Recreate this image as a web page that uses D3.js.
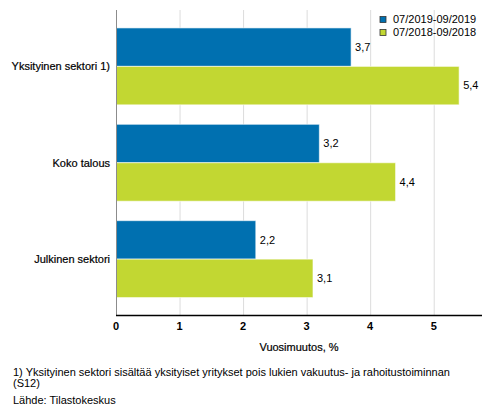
<!doctype html>
<html lang="fi">
<head>
<meta charset="utf-8">
<title>Vuosimuutos</title>
<script src="https://cdn.jsdelivr.net/npm/d3@7"></script>
<style>
  body { margin: 0; background: #fff; }
  svg { font-family: "Liberation Sans", Arial, sans-serif; display: block; }
</style>
</head>
<body>
<div id="chart"></div>
<script>
// data
const categories = ['Yksityinen sektori 1)', 'Koko talous', 'Julkinen sektori'];
const seriesNames = ['07/2019-09/2019', '07/2018-09/2018'];
const values2019 = [3.7, 3.2, 2.2];
const values2018 = [5.4, 4.4, 3.1];
const xTicks = [0, 1, 2, 3, 4, 5];
const colors = ['#0070b0', '#c2d732'];

const width = 493, height = 416;
const plot = { left: 116, right: 482, top: 10, bottom: 315.5 };

const svg = d3.select('#chart').append('svg')
    .attr('width', width)
    .attr('height', height);

const x = d3.scaleLinear()
    .domain([0, 5.76])
    .range([plot.left, plot.right]);

const y0 = d3.scaleBand()
    .domain(categories)
    .range([plot.top, plot.bottom])
    .paddingInner(0)
    .paddingOuter(0.085);

const y1 = d3.scaleBand()
    .domain(seriesNames)
    .range([0, y0.bandwidth()])
    .paddingInner(0)
    .paddingOuter(0.253);

// grid lines
svg.append('g')
    .selectAll('line')
    .data(xTicks.slice(1))
    .join('line')
    .attr('x1', d => x(d) + 0.5)
    .attr('x2', d => x(d) + 0.5)
    .attr('y1', plot.top)
    .attr('y2', plot.bottom)
    .attr('stroke', '#dcdcdc')
    .attr('stroke-width', 1);

const rows = categories.map((c, i) => ({
    cat: c,
    vals: [values2019[i], values2018[i]]
}));

const groups = svg.append('g')
    .selectAll('g')
    .data(rows)
    .join('g')
    .attr('transform', d => 'translate(0,' + y0(d.cat) + ')');

groups.selectAll('rect')
    .data(d => d.vals.map((v, j) => ({ name: seriesNames[j], v: v, j: j })))
    .join('rect')
    .attr('x', x(0))
    .attr('y', d => y1(d.name))
    .attr('width', d => x(d.v) - x(0))
    .attr('height', y1.bandwidth())
    .attr('fill', d => colors[d.j])
    .attr('stroke', '#ffffff')
    .attr('stroke-opacity', 0.6)
    .attr('stroke-width', 1);

groups.selectAll('text.val')
    .data(d => d.vals.map((v, j) => ({ name: seriesNames[j], v: v })))
    .join('text')
    .attr('class', 'val')
    .attr('x', d => x(d.v) + 4)
    .attr('y', d => y1(d.name) + y1.bandwidth() / 2)
    .attr('dy', '0.35em')
    .style('font-size', '11px')
    .style('fill', '#000')
    .text(d => d3.format('.1f')(d.v).replace('.', ','));

// category labels
svg.append('g')
    .selectAll('text')
    .data(categories)
    .join('text')
    .attr('x', plot.left - 6)
    .attr('y', d => y0(d) + y0.bandwidth() / 2)
    .attr('dy', '0.35em')
    .attr('text-anchor', 'end')
    .style('font-size', '11px')
    .style('fill', '#000')
    .style('stroke', '#000')
    .style('stroke-width', 0.2)
    .text(d => d);

// axes lines
svg.append('line')
    .attr('x1', plot.left + 0.5).attr('x2', plot.left + 0.5)
    .attr('y1', plot.top).attr('y2', plot.bottom)
    .attr('stroke', '#8c8c8c');

svg.append('line')
    .attr('x1', plot.left).attr('x2', plot.right)
    .attr('y1', plot.bottom).attr('y2', plot.bottom)
    .attr('stroke', '#000')
    .attr('stroke-width', 1.5);

svg.append('g')
    .selectAll('text')
    .data(xTicks)
    .join('text')
    .attr('x', d => x(d))
    .attr('y', 330)
    .attr('text-anchor', 'middle')
    .style('font-size', '11px')
    .style('font-weight', 'bold')
    .style('fill', '#000')
    .text(d => d);

svg.append('text')
    .attr('x', (plot.left + plot.right) / 2)
    .attr('y', 351)
    .attr('text-anchor', 'middle')
    .style('font-size', '11px')
    .style('fill', '#000')
    .style('stroke', '#000')
    .style('stroke-width', 0.2)
    .text('Vuosimuutos, %');

// legend
const legend = svg.append('g')
    .selectAll('g')
    .data(seriesNames)
    .join('g')
    .attr('transform', (d, i) => 'translate(380,' + (16.5 + i * 13) + ')');

legend.append('rect')
    .attr('width', 6)
    .attr('height', 6)
    .attr('fill', (d, i) => colors[i])
    .attr('stroke', '#333')
    .attr('stroke-width', 0.8);

legend.append('text')
    .attr('x', 13)
    .attr('y', 3)
    .attr('dy', '0.35em')
    .style('font-size', '11px')
    .style('fill', '#000')
    .text(d => d);

// notes
const notes = [
    { t: '1) Yksityinen sektori sisältää yksityiset yritykset pois lukien vakuutus- ja rahoitustoiminnan', y: 376 },
    { t: '(S12)', y: 387 },
    { t: 'Lähde: Tilastokeskus', y: 404 }
];
svg.append('g')
    .selectAll('text')
    .data(notes)
    .join('text')
    .attr('x', 13)
    .attr('y', d => d.y)
    .style('font-size', '11px')
    .style('fill', '#000')
    .text(d => d.t);
</script>
</body>
</html>
